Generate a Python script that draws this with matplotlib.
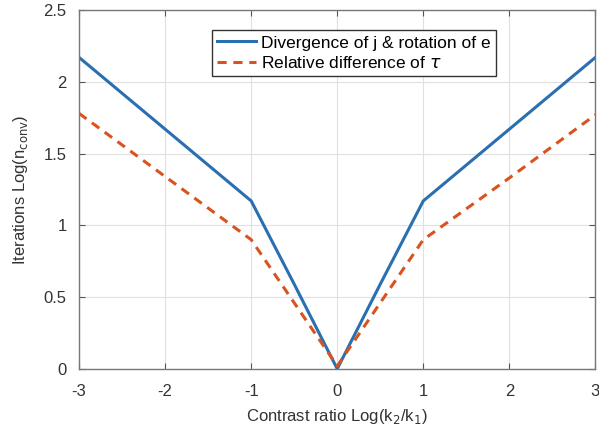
import matplotlib
matplotlib.use('Agg')
import matplotlib.pyplot as plt

# data
ratio = [-3, -2, -1, -0.5, 0, 0.5, 1, 2, 3]
div_rot = [2.17, 1.67, 1.17, 0.59, 0.0, 0.59, 1.17, 1.67, 2.17]
rel_diff = [1.78, 1.34, 0.90, 0.46, 0.02, 0.46, 0.90, 1.33, 1.77]

matplotlib.rcParams['font.family'] = ['Liberation Sans', 'DejaVu Sans']
matplotlib.rcParams['font.size'] = 12
matplotlib.rcParams['axes.unicode_minus'] = False

fig = plt.figure(figsize=(5.99, 4.37), dpi=100)
ax = fig.add_axes([0.132, 0.156, 0.862, 0.821])

ax.plot(ratio, div_rot, color='#2a6fb0', lw=2.2, label='Divergence of j & rotation of e')
ax.plot(ratio, rel_diff, color='#d9531e', lw=2.2, ls=(0, (3, 2.2)), label=r'Relative difference of $\tau$')

ax.set_xlim(-3, 3)
ax.set_ylim(0, 2.5)
ax.set_xticks([-3, -2, -1, 0, 1, 2, 3])
ax.set_yticks([0, 0.5, 1, 1.5, 2, 2.5])
ax.set_yticklabels(['0', '0.5', '1', '1.5', '2', '2.5'])
ax.grid(True, color='#e0e0e0', lw=0.8)
ax.set_axisbelow(True)
ax.tick_params(direction='in', colors='#555555', labelcolor='#333333', length=4, top=True, right=True,
               labeltop=False, labelright=False)
ax.tick_params(axis='x', pad=11)
ax.tick_params(axis='y', pad=9)
for s in ax.spines.values():
    s.set_color('#777777')
    s.set_linewidth(1.0)

ax.set_xlabel(r'Contrast ratio Log(k$_2$/k$_1$)', color='#333333', labelpad=6)
ax.set_ylabel(r'Iterations Log(n$_{\rm conv}$)', color='#333333', labelpad=10)

leg = ax.legend(loc='upper left', bbox_to_anchor=(0.258, 0.944), fancybox=False, framealpha=1,
                edgecolor='#333333', handlelength=2.2, handletextpad=0.3, borderpad=0.3,
                labelspacing=0.25, borderaxespad=0, fontsize=12.5)
leg.get_frame().set_linewidth(1.0)

fig.savefig('out.png', dpi=100)
